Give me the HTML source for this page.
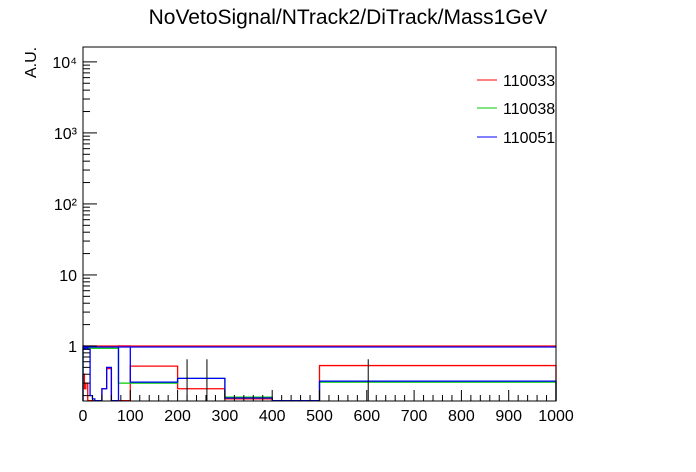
<!DOCTYPE html>
<html><head><meta charset="utf-8"><style>
body{margin:0;background:#fff}
svg{display:block;font-family:"Liberation Sans",sans-serif}
</style></head><body>
<svg id="c" width="696" height="472" viewBox="0 0 696 472">
<text x="348" y="24" text-anchor="middle" font-size="21">NoVetoSignal/NTrack2/DiTrack/Mass1GeV</text>
<text transform="translate(36,78) rotate(-90)" text-anchor="start" font-size="16">A.U.</text>
<g id="series"></g>
<rect x="83" y="47" width="473" height="354" fill="none" stroke="#000" stroke-width="1"/>
<g id="axes"></g>
<g>
<line x1="477" y1="80" x2="497" y2="80" stroke="#f00"/>
<text x="503" y="86" font-size="16">110033</text>
<line x1="477" y1="108" x2="497" y2="108" stroke="#0c0"/>
<text x="503" y="114" font-size="16">110038</text>
<line x1="477" y1="137" x2="497" y2="137" stroke="#00f"/>
<text x="503" y="143" font-size="16">110051</text>
</g>
</svg>
<script>
const edges=[0,3,6,10,15,20,25,30,40,50,60,75,100,200,300,400,500,1000];
const blueVals=[1.0,0.9,0.95,0.9,0.2,0.18,0.17,0.17,0.25,0.5,0.17,1.0,0.31,0.35,0.185,0.17,0.32];
const greenVals=[0.93,0.93,0.93,0.93,0.93,0.93,0.93,0.93,0.93,0.93,0.93,0.3,0.30,0.35,0.19,0.17,0.31];
const redVals=[0.4,0.25,0.3,0.17,0.17,0.17,0.17,0.17,0.25,0.48,0.17,0.17,0.52,0.25,0.18,0.17,0.53];
const errX=[220,262,603];
const errTop=[0.65,0.65,0.65];
const xTicks=[0,100,200,300,400,500,600,700,800,900,1000];
const yTickVals=[1,10,100,1000,10000];
const yTickLabels=["1","10","10²","10³","10⁴"];
const X0=83,X1=556,Y0=401,Y1=47,YMIN=Math.log10(0.168),YMAX=Math.log10(16200);
const sx=v=>X0+(v/1000)*(X1-X0);
const sy=v=>{const l=Math.log10(Math.max(v,0.168));return Y0-(l-YMIN)/(YMAX-YMIN)*(Y0-Y1);};
const NS="http://www.w3.org/2000/svg";
const series=document.getElementById('series'),axes=document.getElementById('axes');
function mk(t,a,p){const e=document.createElementNS(NS,t);for(const k in a)e.setAttribute(k,a[k]);p.appendChild(e);return e;}
function step(vals,color,name){
  let d=`M${sx(edges[0])},${Y0}`;
  vals.forEach((v,i)=>{d+=` L${sx(edges[i])},${sy(v)} L${sx(edges[i+1])},${sy(v)}`;});
  d+=` L${sx(edges[edges.length-1])},${Y0}`;
  const p=mk('path',{d:d,fill:'none',stroke:color,'stroke-width':1.3},series);
  
  
}
step(redVals,'#f00','series-110033');
step(greenVals,'#0c0','series-110038');
step(blueVals,'#00f','series-110051');
['#f00','#00f'].forEach((c,i)=>{
  const l=mk('line',{x1:sx(0),x2:sx(1000),y1:sy(1)-(i?-1:0),y2:sy(1)-(i?-1:0),stroke:c,'stroke-width':1.2},series);
  
  
});
errX.forEach((x,i)=>{
  const l=mk('line',{x1:sx(x),x2:sx(x),y1:sy(errTop[i]),y2:Y0,stroke:'#000'},series);
  
  
});
for(let v=0;v<=1000;v+=20){
  const major=v%100===0;
  const l=mk('line',{x1:sx(v),x2:sx(v),y1:Y0,y2:Y0-(major?11:6),stroke:'#000'},axes);
  
  
}
xTicks.forEach(v=>{
  const t=mk('text',{x:sx(v),y:Y0+20,'text-anchor':'middle','font-size':16},axes);
  t.textContent=v;
  
  
});
for(let e=-1;e<=4;e++){for(let m=1;m<=9;m++){
  const v=m*Math.pow(10,e);const y=sy(v);
  if(y>Y0||y<Y1||v<0.168)continue;
  const l=mk('line',{x1:X0,x2:X0+(m===1?14:7),y1:y,y2:y,stroke:'#000'},axes);
  
  
}}
yTickVals.forEach((v,i)=>{
  const t=mk('text',{x:X0-6,y:sy(v)+6,'text-anchor':'end','font-size':16},axes);
  t.textContent=yTickLabels[i];
  
  
});
</script>
</body></html>
